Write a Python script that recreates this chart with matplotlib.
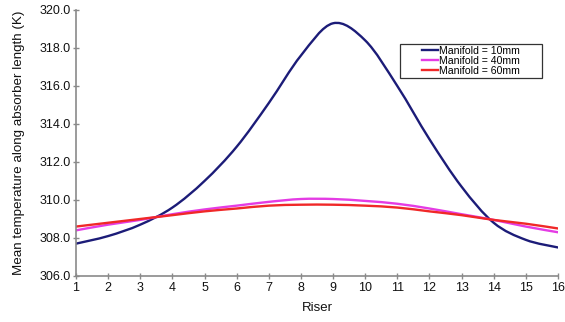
import matplotlib
matplotlib.use("Agg")
import matplotlib.pyplot as plt
from matplotlib.path import Path
from matplotlib.patches import PathPatch, Rectangle
from matplotlib.lines import Line2D
from matplotlib.ticker import FormatStrFormatter

plt.rcParams['font.family'] = ['Liberation Sans', 'DejaVu Sans']

risers = list(range(1, 17))
manifold_10mm = [307.7, 308.1, 308.7, 309.6, 311.0, 312.8, 315.1, 317.6,
                 319.3, 318.4, 316.0, 313.2, 310.7, 308.8, 307.9, 307.5]
manifold_40mm = [308.4, 308.7, 308.95, 309.25, 309.5, 309.7, 309.9, 310.05,
                 310.05, 309.95, 309.8, 309.55, 309.25, 308.95, 308.6, 308.3]
manifold_60mm = [308.6, 308.8, 309.0, 309.2, 309.4, 309.55, 309.7, 309.75,
                 309.75, 309.7, 309.6, 309.4, 309.2, 308.95, 308.75, 308.5]
series_labels = ["Manifold = 10mm", "Manifold = 40mm", "Manifold = 60mm"]
series_colors = ['#1c1c78', '#e43ce4', '#f02828']
y_ticks = [306.0, 308.0, 310.0, 312.0, 314.0, 316.0, 318.0, 320.0]


def smooth_path(xs, ys):
    """Cubic Bezier path through every data point (spreadsheet-style smoothed line)."""
    n = len(xs)
    verts = [(xs[0], ys[0])]
    codes = [Path.MOVETO]
    for i in range(n - 1):
        x0, y0 = xs[max(i - 1, 0)], ys[max(i - 1, 0)]
        x1, y1 = xs[i], ys[i]
        x2, y2 = xs[i + 1], ys[i + 1]
        x3, y3 = xs[min(i + 2, n - 1)], ys[min(i + 2, n - 1)]
        c1 = (x1 + (x2 - x0) / 6.0, y1 + (y2 - y0) / 6.0)
        c2 = (x2 - (x3 - x1) / 6.0, y2 - (y3 - y1) / 6.0)
        verts += [c1, c2, (x2, y2)]
        codes += [Path.CURVE4] * 3
    return Path(verts, codes)


fig = plt.figure(figsize=(5.65, 3.22), dpi=100)
ax = fig.add_axes([0.1345, 0.143, 0.853, 0.826])

for values, color in zip([manifold_10mm, manifold_40mm, manifold_60mm], series_colors):
    ax.add_patch(PathPatch(smooth_path(risers, values), facecolor='none',
                           edgecolor=color, lw=1.7, capstyle='round',
                           joinstyle='round'))

ax.set_xlim(1, 16)
ax.set_ylim(306, 320)
ax.set_xticks(risers)
ax.set_yticks(y_ticks)
ax.yaxis.set_major_formatter(FormatStrFormatter('%.1f'))

for side in ('top', 'right'):
    ax.spines[side].set_visible(False)
for side in ('left', 'bottom'):
    ax.spines[side].set_color('#8a8a8a')
    ax.spines[side].set_linewidth(1.2)
ax.tick_params(axis='both', direction='inout', length=4, width=1, color='#8a8a8a',
               labelsize=9, labelcolor='#111111', pad=2)

ax.set_xlabel("Riser", fontsize=9.5, color='#111111', labelpad=6)
ax.set_ylabel("Mean temperature along absorber length (K)", fontsize=9.6,
              color='#111111', labelpad=10)

# legend: frame drawn as a separate box, entries centred inside it
fig.patches.append(Rectangle((400 / 565, 1 - 78 / 322), 142 / 565, 34 / 322,
                             transform=fig.transFigure, facecolor='white',
                             edgecolor='#333333', lw=0.9, zorder=5))
handles = [Line2D([], [], color=c, lw=1.7) for c in series_colors]
leg = fig.legend(handles, series_labels, loc='center',
                 bbox_to_anchor=(471 / 565, 1 - 61 / 322),
                 bbox_transform=fig.transFigure, frameon=False,
                 fontsize=7.6, handlelength=1.5, handletextpad=0.15,
                 labelspacing=0.0, borderpad=0.0)
leg.set_zorder(6)

fig.savefig("out.png", dpi=100)
